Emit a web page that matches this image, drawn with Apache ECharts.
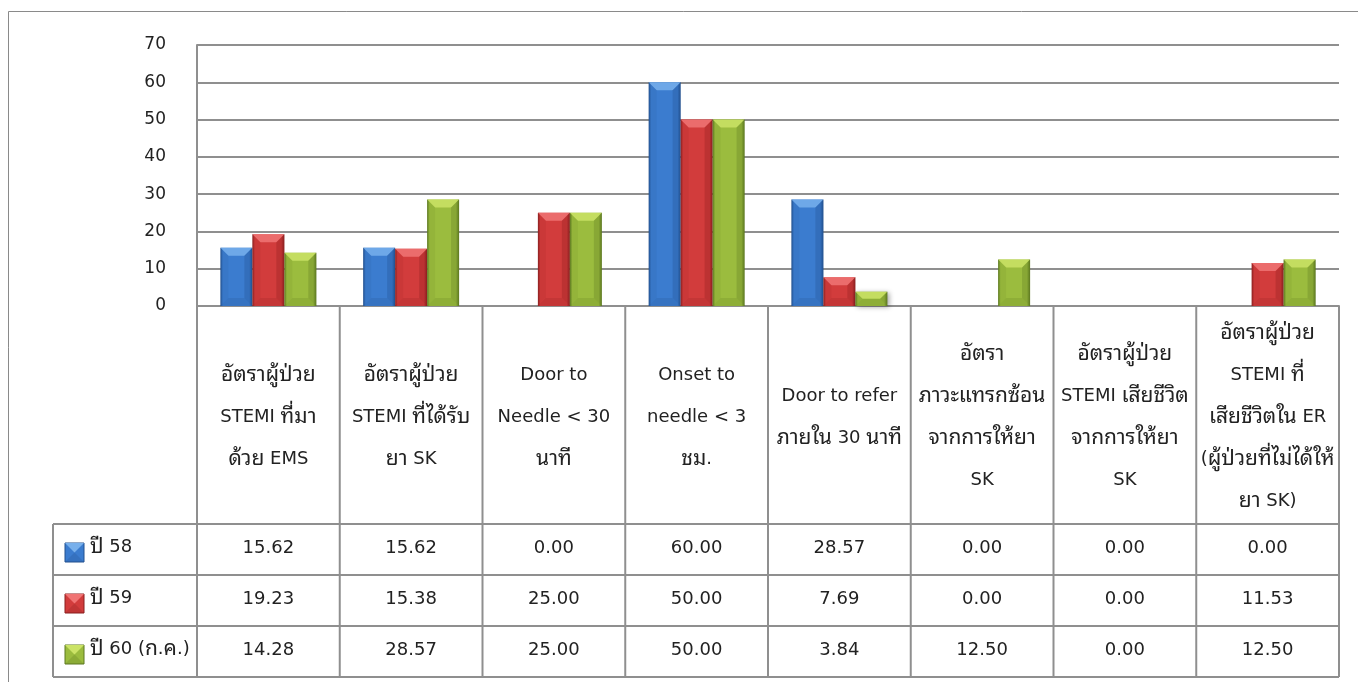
<!DOCTYPE html>
<html>
<head>
<meta charset="utf-8">
<script src="https://cdn.jsdelivr.net/npm/echarts@6/dist/echarts.min.js"></script>
<style>
  html, body { margin: 0; padding: 0; background: #fff; }
  #chart { width: 1358px; height: 682px; }
</style>
</head>
<body>
<div id="chart"></div>
<script>
// Indicator names (header cells of the data table)
const categories = [
  'อัตราผู้ป่วย\nSTEMI ที่มา\nด้วย EMS',
  'อัตราผู้ป่วย\nSTEMI ที่ได้รับ\nยา SK',
  'Door to\nNeedle < 30\nนาที',
  'Onset to\nneedle < 3\nชม.',
  'Door to refer\nภายใน 30 นาที',
  'อัตรา\nภาวะแทรกซ้อน\nจากการให้ยา\nSK',
  'อัตราผู้ป่วย\nSTEMI เสียชีวิต\nจากการให้ยา\nSK',
  'อัตราผู้ป่วย\nSTEMI ที่\nเสียชีวิตใน ER\n(ผู้ป่วยที่ไม่ได้ให้\nยา SK)'
];
const seriesNames = ['ปี 58', 'ปี 59', 'ปี 60 (ก.ค.)'];
const year58 = [15.62, 15.62, 0.00, 60.00, 28.57, 0.00, 0.00, 0.00];
const year59 = [19.23, 15.38, 25.00, 50.00, 7.69, 0.00, 0.00, 11.53];
const year60 = [14.28, 28.57, 25.00, 50.00, 3.84, 12.50, 0.00, 12.50];
const yTicks = [0, 10, 20, 30, 40, 50, 60, 70];

const FONT = '"DejaVu Sans", "Noto Sans Thai", "Noto Sans", sans-serif';
const THAI_FONT = '"Noto Sans Thai Looped", "Noto Sans Thai", "Noto Sans", sans-serif';
const FS = 18;
const LINE = '#8f8f8f';

// Thai runs get their own, slightly larger face so both scripts read at the same size
function toRich(str) {
  return str.split('\n').map((line) =>
    line.split(/([\u0E00-\u0E7F]+)/).filter((s) => s.length)
      .map((s) => (/[\u0E00-\u0E7F]/.test(s) ? '{th|' + s + '}' : '{la|' + s + '}')).join('')
  ).join('\n');
}
function richStyles(lh) {
  return {
    th: { fontSize: 21, fontFamily: THAI_FONT, fill: '#222', lineHeight: lh },
    la: { fontSize: FS, fontFamily: FONT, fill: '#222', lineHeight: lh }
  };
}

// Bevelled bar palettes: face, highlight, shadow edge
const palettes = [
  { face: '#3b7ccf', light: '#78b0ec', dark: '#22508e' },
  { face: '#d23c3c', light: '#f07474', dark: '#8a1f1f' },
  { face: '#9bbc3e', light: '#cbe366', dark: '#5c7820' }
];
const seriesData = [year58, year59, year60];

function bevelShapes(x, yTop, w, h, pal) {
  const b = Math.min(8, h / 2, w / 2);
  const yBot = yTop + h;
  const face = new echarts.graphic.LinearGradient(0, 0, 1, 0, [
    { offset: 0, color: pal.dark },
    { offset: 0.08, color: pal.face },
    { offset: 0.5, color: pal.face },
    { offset: 0.9, color: pal.face },
    { offset: 1, color: pal.dark }
  ]);
  return [
    { type: 'rect', shape: { x: x, y: yTop, width: w, height: h },
      style: { fill: face, shadowBlur: 5, shadowOffsetX: 2, shadowOffsetY: 1, shadowColor: 'rgba(0,0,0,0.35)' } },
    { type: 'polygon', shape: { points: [[x, yTop], [x + w, yTop], [x + w - b, yTop + b], [x + b, yTop + b]] },
      style: { fill: pal.light, opacity: 0.85 } },
    { type: 'polygon', shape: { points: [[x, yBot], [x + w, yBot], [x + w - b, yBot - b], [x + b, yBot - b]] },
      style: { fill: pal.dark, opacity: 0.2 } },
    { type: 'polygon', shape: { points: [[x + w, yTop], [x + w, yBot], [x + w - b, yBot - b], [x + w - b, yTop + b]] },
      style: { fill: pal.dark, opacity: 0.3 } },
    { type: 'polygon', shape: { points: [[x, yTop], [x, yBot], [x + b, yBot - b], [x + b, yTop + b]] },
      style: { fill: pal.dark, opacity: 0.1 } }
  ];
}

function barRenderer(si) {
  return function (params, api) {
    const cat = api.value(0);
    const val = api.value(1);
    const band = api.size([1, 0])[0];
    const w = band * 0.224;
    const base = api.coord([cat, 0]);
    const top = api.coord([cat, val]);
    const h = base[1] - top[1];
    if (h < 0.5) return null;
    const x = base[0] - w * 1.5 + si * w;
    return { type: 'group', children: bevelShapes(x, top[1], w, h, palettes[si]) };
  };
}

const chart = echarts.init(document.getElementById('chart'), null, { renderer: 'canvas' });

const gridLeft = 197, gridRight = 19, gridTop = 45, gridBottom = 376;

chart.setOption({
  animation: false,
  backgroundColor: '#fff',
  grid: { left: gridLeft, right: gridRight, top: gridTop, bottom: gridBottom },
  xAxis: {
    type: 'category',
    data: categories,
    axisLine: { show: true, lineStyle: { color: LINE, width: 2 } },
    axisTick: { show: false },
    axisLabel: { show: false },
    splitLine: { show: false }
  },
  yAxis: {
    type: 'value',
    min: yTicks[0],
    max: yTicks[yTicks.length - 1],
    interval: 10,
    axisLine: { show: true, lineStyle: { color: LINE, width: 2 } },
    axisTick: { show: false },
    axisLabel: { color: '#222', fontSize: 17, fontFamily: FONT, margin: 31 },
    splitLine: { lineStyle: { color: LINE, width: 2 } }
  },
  series: seriesData.map((vals, si) => ({
    type: 'custom',
    name: seriesNames[si],
    renderItem: barRenderer(si),
    encode: { x: 0, y: 1 },
    data: vals.map((v, i) => [i, v]),
    z: 3
  }))
});

// Data table beneath the plot, aligned with the category bands
function buildTable() {
  const n = categories.length;
  const p0 = chart.convertToPixel({ xAxisIndex: 0 }, 0);
  const p1 = chart.convertToPixel({ xAxisIndex: 0 }, 1);
  const band = p1 - p0;
  const bounds = [];
  for (let i = 0; i <= n; i++) bounds.push(p0 - band / 2 + i * band);
  const axisY = chart.convertToPixel({ yAxisIndex: 0 }, 0);
  const headerBottom = 524, rowH = 51;
  const legendLeft = 53;
  const tableBottom = headerBottom + rowH * seriesNames.length;
  const els = [];
  const lineStyle = { stroke: LINE, lineWidth: 2 };

  // outer chart frame
  els.push({ type: 'rect', shape: { x: 8.5, y: 11.5, width: 1400, height: 720 },
    style: { fill: null, stroke: '#8a8a8a', lineWidth: 1 }, z: 0 });

  // vertical column rules
  bounds.forEach((bx) => {
    els.push({ type: 'line', shape: { x1: bx, y1: axisY, x2: bx, y2: tableBottom }, style: lineStyle, z: 10 });
  });
  els.push({ type: 'line', shape: { x1: legendLeft, y1: headerBottom, x2: legendLeft, y2: tableBottom }, style: lineStyle, z: 10 });

  // horizontal row rules
  for (let r = 0; r <= seriesNames.length; r++) {
    const y = headerBottom + r * rowH;
    els.push({ type: 'line', shape: { x1: legendLeft, y1: y, x2: bounds[n], y2: y }, style: lineStyle, z: 10 });
  }

  // header cells
  categories.forEach((c, i) => {
    els.push({ type: 'text', z: 11,
      style: { text: toRich(c), x: (bounds[i] + bounds[i + 1]) / 2, y: (axisY + headerBottom) / 2 + 2,
        align: 'center', verticalAlign: 'middle', rich: richStyles(42) } });
  });

  // value rows with legend keys
  seriesNames.forEach((name, si) => {
    const cy = headerBottom + si * rowH + rowH / 2;
    const k = 19, kx = 65, ky = cy - k / 2 + 3;
    const pal = palettes[si];
    els.push({ type: 'rect', z: 11, shape: { x: kx, y: ky, width: k, height: k },
      style: { fill: pal.face, stroke: pal.dark, lineWidth: 1 } });
    els.push({ type: 'polygon', z: 12, shape: { points: [[kx, ky], [kx + k, ky], [kx + k / 2, ky + k / 2]] },
      style: { fill: pal.light } });
    els.push({ type: 'polygon', z: 12, shape: { points: [[kx, ky + k], [kx + k, ky + k], [kx + k / 2, ky + k / 2]] },
      style: { fill: pal.dark, opacity: 0.25 } });
    els.push({ type: 'text', z: 11,
      style: { text: toRich(name), x: 90, y: cy - 2, align: 'left', verticalAlign: 'middle',
        rich: richStyles(26) } });
    seriesData[si].forEach((v, i) => {
      els.push({ type: 'text', z: 11,
        style: { text: v.toFixed(2), x: (bounds[i] + bounds[i + 1]) / 2, y: cy - 1,
          align: 'center', verticalAlign: 'middle', fontSize: FS, fontFamily: FONT, fill: '#222' } });
    });
  });
  return els;
}

chart.setOption({ graphic: { elements: buildTable() } });
</script>
</body>
</html>
